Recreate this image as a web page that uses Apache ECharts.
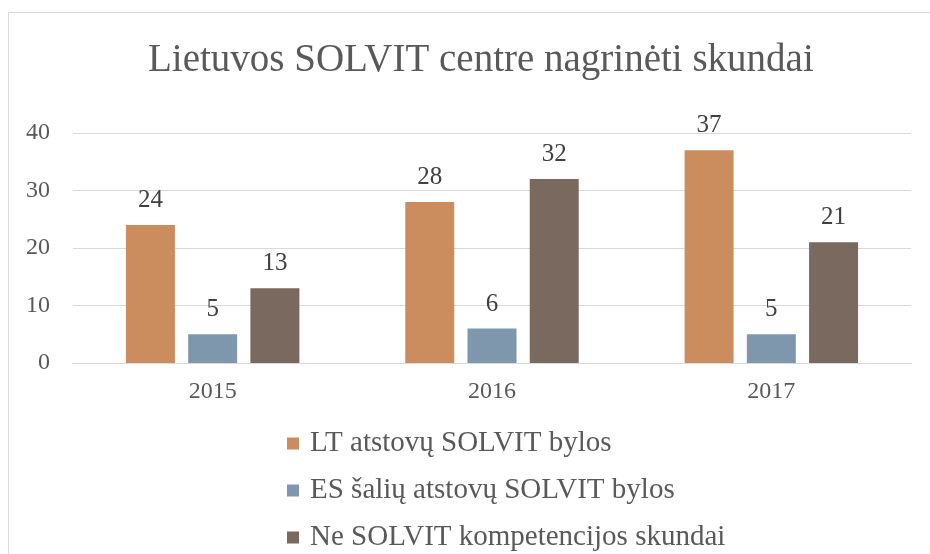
<!DOCTYPE html>
<html>
<head>
<meta charset="utf-8">
<script src="https://cdn.jsdelivr.net/npm/echarts@6/dist/echarts.min.js"></script>
<style>
html, body { margin: 0; padding: 0; background: #fff; }
#main { width: 930px; height: 554px; }
</style>
</head>
<body>
<div id="main"></div>
<script>
var years = ['2015', '2016', '2017'];
var seriesNames = ['LT atstovų SOLVIT bylos', 'ES šalių atstovų SOLVIT bylos', 'Ne SOLVIT kompetencijos skundai'];
var ltCases = [24, 28, 37];
var esCases = [5, 6, 5];
var otherCases = [13, 32, 21];
var colors = ['#CC8D5E', '#7F97AD', '#7A695E'];

var myChart = echarts.init(document.getElementById('main'));
var fontFam = '"Liberation Serif", "DejaVu Serif", serif';

function barSeries(name, values, color) {
	return {
		name: name,
		type: 'bar',
		data: values,
		barWidth: 49,
		barGap: '27%',
		itemStyle: { color: color },
		label: {
			show: true,
			position: 'top',
			distance: 12,
			color: '#404040',
			fontSize: 25,
			fontFamily: fontFam
		}
	};
}

var option = {
	animation: false,
	color: colors,
	graphic: [{
		type: 'rect',
		shape: { x: 8.5, y: 12.5, width: 1000, height: 1000 },
		style: { fill: 'none', stroke: '#D9D9D9', lineWidth: 1 }
	}],
	title: {
		text: 'Lietuvos SOLVIT centre nagrinėti skundai',
		left: 143,
		top: 36,
		textStyle: {
			color: '#595959',
			fontSize: 39,
			fontWeight: 'normal',
			fontFamily: fontFam
		}
	},
	legend: {
		orient: 'vertical',
		left: 282,
		top: 424,
		height: 200,
		itemWidth: 12,
		itemHeight: 12,
		itemGap: 18,
		icon: 'rect',
		textStyle: {
			color: '#595959',
			fontSize: 29,
			fontFamily: fontFam,
			padding: [0, 0, 0, 6]
		},
		data: seriesNames
	},
	grid: {
		left: 73,
		right: 19,
		top: 133,
		bottom: 191
	},
	xAxis: {
		type: 'category',
		data: years,
		axisLine: { lineStyle: { color: '#D9D9D9' } },
		axisTick: { show: false },
		axisLabel: {
			color: '#595959',
			fontSize: 24,
			fontFamily: fontFam,
			margin: 17
		}
	},
	yAxis: {
		type: 'value',
		min: 0,
		max: 40,
		interval: 10,
		axisLine: { show: false },
		axisTick: { show: false },
		splitLine: { lineStyle: { color: '#D9D9D9', width: 1 } },
		axisLabel: {
			color: '#595959',
			fontSize: 24,
			fontFamily: fontFam,
			margin: 23
		}
	},
	series: [
		barSeries(seriesNames[0], ltCases, colors[0]),
		barSeries(seriesNames[1], esCases, colors[1]),
		barSeries(seriesNames[2], otherCases, colors[2])
	]
};

myChart.setOption(option);
window.onresize = myChart.resize;
</script>
</body>
</html>
